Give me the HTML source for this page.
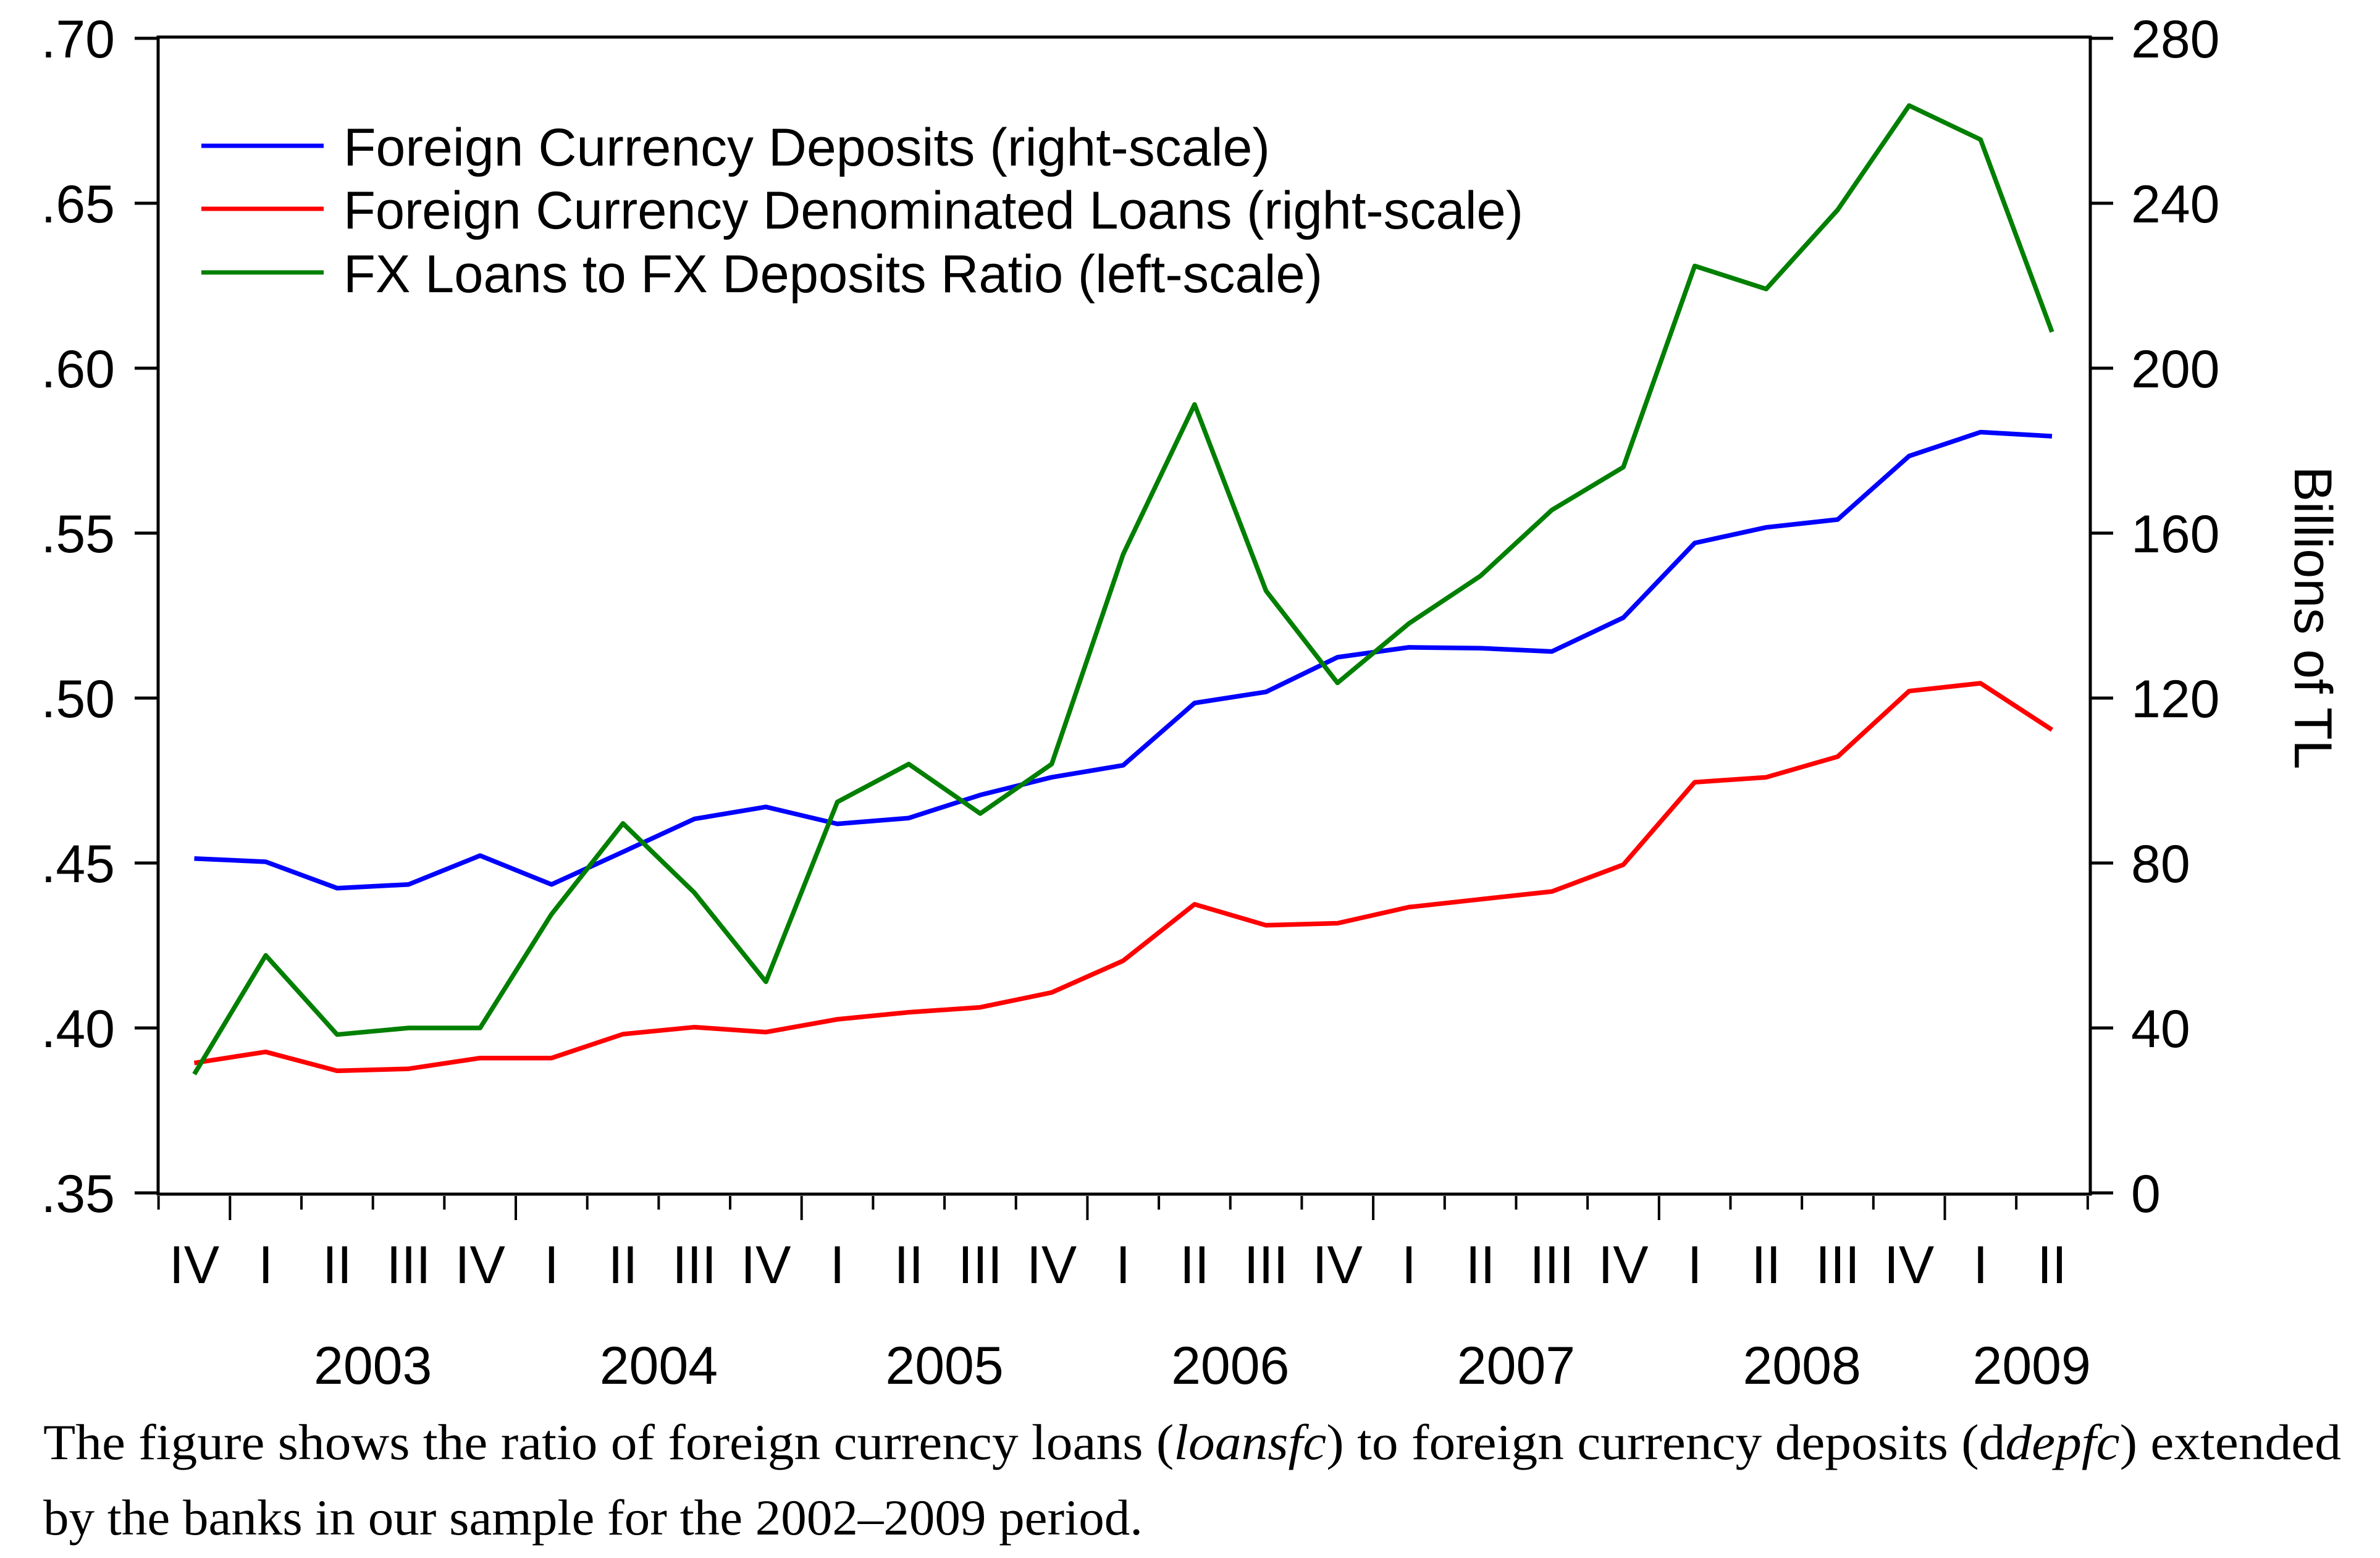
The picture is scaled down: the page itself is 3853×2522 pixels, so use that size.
<!DOCTYPE html>
<html><head><meta charset="utf-8"><style>
html,body{margin:0;padding:0;background:#fff;}
svg{display:block;}
text{font-family:"Liberation Sans",sans-serif;}
</style></head><body>
<svg id="chart" width="3853" height="2522" viewBox="0 0 3853 2522" xmlns="http://www.w3.org/2000/svg">
<g id="axes"></g>
<g id="series"></g>
<g id="legend">
  <line x1="326" y1="236" x2="524" y2="236" stroke="#0000ff" stroke-width="7"/>
  <text x="556" y="268" font-size="86" textLength="1500" lengthAdjust="spacingAndGlyphs">Foreign Currency Deposits (right-scale)</text>
  <line x1="326" y1="338" x2="524" y2="338" stroke="#ff0000" stroke-width="7"/>
  <text x="556" y="370" font-size="86" textLength="1910" lengthAdjust="spacingAndGlyphs">Foreign Currency Denominated Loans (right-scale)</text>
  <line x1="326" y1="441" x2="524" y2="441" stroke="#007f00" stroke-width="7"/>
  <text x="556" y="473" font-size="86" textLength="1585" lengthAdjust="spacingAndGlyphs">FX Loans to FX Deposits Ratio (left-scale)</text>
</g>
<text transform="translate(3715,1000) rotate(90)" text-anchor="middle" font-size="86">Billions of TL</text>
<text x="70" y="2362" font-size="82" textLength="3720" lengthAdjust="spacingAndGlyphs" style="font-family:'Liberation Serif',serif">The figure shows the ratio of foreign currency loans (<tspan font-style="italic">loansfc</tspan>) to foreign currency deposits (d<tspan font-style="italic">depfc</tspan>) extended</text>
<text x="70" y="2484" font-size="82" textLength="1780" lengthAdjust="spacingAndGlyphs" style="font-family:'Liberation Serif',serif">by the banks in our sample for the 2002–2009 period.</text>
</svg>
<script>
const quarters = ["IV","I","II","III","IV","I","II","III","IV","I","II","III","IV","I","II","III","IV","I","II","III","IV","I","II","III","IV","I","II"];
const years = ["2003","2004","2005","2006","2007","2008","2009"];
const leftTicks = [0.35,0.40,0.45,0.50,0.55,0.60,0.65,0.70];
const leftTickLabels = [".35",".40",".45",".50",".55",".60",".65",".70"];
const rightTicks = [0,40,80,120,160,200,240,280];
const ratio = [0.386,0.422,0.398,0.400,0.400,0.4345,0.462,0.441,0.414,0.4685,0.480,0.465,0.480,0.5436,0.589,0.5325,0.5046,0.5226,0.537,0.557,0.570,0.631,0.624,0.648,0.6796,0.6693,0.611];
const deposits = [81.1,80.3,73.9,74.8,81.8,74.8,82.7,90.7,93.6,89.5,90.9,96.5,100.8,103.7,118.8,121.5,129.9,132.3,132.1,131.3,139.5,157.6,161.4,163.3,178.7,184.5,183.5];
const loans = [31.5,34.2,29.6,30.1,32.7,32.7,38.5,40.2,39.0,42.1,43.8,45.0,48.6,56.3,70.0,64.9,65.4,69.3,71.2,73.1,79.6,99.6,100.8,105.8,121.7,123.6,112.3];

const NS="http://www.w3.org/2000/svg";
const L=256,R=3384,T=60,B=1933, YT=62, YB=1931;
const x0=314.5, step=(3322-314.5)/26;
function xs(i){return x0+i*step;}
function yl(v){return YB-(v-0.35)/(0.70-0.35)*(YB-YT);}
function yr(v){return YB-(v-0)/(280-0)*(YB-YT);}
function mk(tag,attrs,parent){const e=document.createElementNS(NS,tag);for(const k in attrs)e.setAttribute(k,attrs[k]);parent.appendChild(e);return e;}
const axes=document.getElementById('axes');
const ser=document.getElementById('series');

let f=mk('rect',{x:L,y:T,width:R-L,height:B-T,fill:'none',stroke:'#000','stroke-width':5},axes);



leftTicks.forEach((v,i)=>{
  const y=yl(v);
  let t=mk('line',{x1:218,x2:L,y1:y,y2:y,stroke:'#000','stroke-width':5},axes);
  
  
  let tx=mk('text',{x:186,y:y+31,'text-anchor':'end','font-size':86},axes);
  tx.textContent=leftTickLabels[i];
  
  
});
rightTicks.forEach(v=>{
  const y=yr(v);
  let t=mk('line',{x1:R,x2:3421,y1:y,y2:y,stroke:'#000','stroke-width':5},axes);
  
  
  let tx=mk('text',{x:3450,y:y+31,'font-size':86},axes);
  tx.textContent=String(v);
  
  
});
for(let i=0;i<=quarters.length;i++){
  const x=xs(i-0.5);
  const major=i<quarters.length && quarters[i]==="I";
  let t=mk('line',{x1:x,x2:x,y1:B+3,y2:major?1975:1958,stroke:'#000','stroke-width':4},axes);
  
  
}
quarters.forEach((q,i)=>{
  let tx=mk('text',{x:xs(i),y:2077,'text-anchor':'middle','font-size':86},axes);
  tx.textContent=q;
  
  
});
years.forEach((yv,k)=>{
  const i1=1+4*k, i2=Math.min(i1+3,quarters.length-1);
  let cx=(xs(i1)+xs(i2))/2;
  if(i2-i1<3) cx=Math.min(cx+25, 3290);
  let tx=mk('text',{x:cx,y:2240,'text-anchor':'middle','font-size':86},axes);
  tx.textContent=yv;
  
  
});
function line(vals,fy,color,name){
  const d=vals.map((v,i)=>(i?'L':'M')+xs(i).toFixed(1)+' '+fy(v).toFixed(1)).join(' ');
  let p=mk('path',{d:d,fill:'none',stroke:color,'stroke-width':7.5,'stroke-linejoin':'round'},ser);
  
  
}
line(deposits,yr,'#0000ff','deposits-line');
line(loans,yr,'#ff0000','loans-line');
line(ratio,yl,'#007f00','ratio-line');
</script>
</body></html>
